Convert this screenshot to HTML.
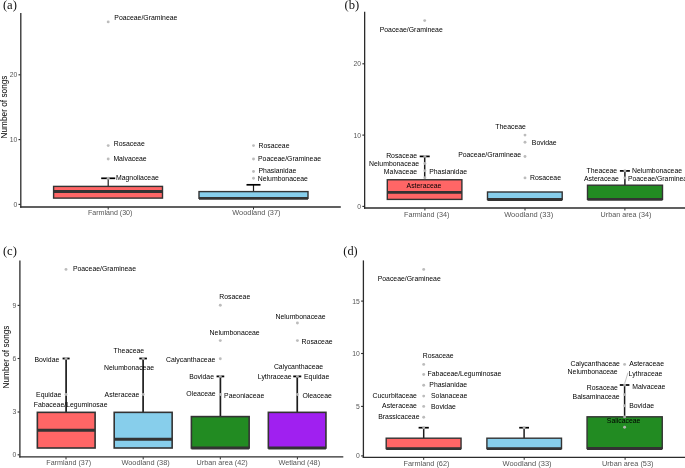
<!DOCTYPE html>
<html><head><meta charset="utf-8"><title>Boxplots</title>
<style>
html,body{margin:0;padding:0;background:#fff;}
body{width:685px;height:468px;overflow:hidden;font-family:"Liberation Sans",sans-serif;}
svg{display:block;will-change:transform;opacity:0.999;}
</style></head><body>
<svg width="685" height="468" viewBox="0 0 685 468">
<rect x="0" y="0" width="685" height="468" fill="#ffffff"/>
<text x="2.9" y="8.8" text-anchor="start" font-size="12.6" fill="#111" font-family="Liberation Serif, sans-serif" >(a)</text>
<line x1="20.8" y1="13.1" x2="20.8" y2="207.65" stroke="#2b2b2b" stroke-width="1.3" />
<line x1="20.150000000000002" y1="207.0" x2="340.8" y2="207.0" stroke="#2b2b2b" stroke-width="1.3" />
<line x1="18.500000000000004" y1="204.4" x2="20.5" y2="204.4" stroke="#2b2b2b" stroke-width="1.1" />
<text x="17.2" y="206.85" text-anchor="end" font-size="6.8" fill="#555555" font-family="Liberation Sans, sans-serif" >0</text>
<line x1="18.500000000000004" y1="139.6" x2="20.5" y2="139.6" stroke="#2b2b2b" stroke-width="1.1" />
<text x="17.2" y="142.04999999999998" text-anchor="end" font-size="6.8" fill="#555555" font-family="Liberation Sans, sans-serif" >10</text>
<line x1="18.500000000000004" y1="74.8" x2="20.5" y2="74.8" stroke="#2b2b2b" stroke-width="1.1" />
<text x="17.2" y="77.25" text-anchor="end" font-size="6.8" fill="#555555" font-family="Liberation Sans, sans-serif" >20</text>
<line x1="108.2" y1="207.3" x2="108.2" y2="209.5" stroke="#2b2b2b" stroke-width="1.0" />
<text x="88.0" y="215.2" text-anchor="start" font-size="7.3" fill="#555555" font-family="Liberation Sans, sans-serif" textLength="44.4" lengthAdjust="spacingAndGlyphs">Farmland (30)</text>
<line x1="253.5" y1="207.3" x2="253.5" y2="209.5" stroke="#2b2b2b" stroke-width="1.0" />
<text x="232.3" y="215.2" text-anchor="start" font-size="7.3" fill="#555555" font-family="Liberation Sans, sans-serif" textLength="48.2" lengthAdjust="spacingAndGlyphs">Woodland (37)</text>
<text x="0" y="0" text-anchor="middle" font-size="8.27" fill="#000" font-family="Liberation Sans, sans-serif" transform="translate(7.3,107.0) rotate(-90)">Number of songs</text>
<circle cx="108.2" cy="21.9" r="1.45" fill="#b8b8b8" fill-opacity="0.95"/>
<text x="114.3" y="19.6" text-anchor="start" font-size="6.88" fill="#000" font-family="Liberation Sans, sans-serif" >Poaceae/Gramineae</text>
<circle cx="108.2" cy="145.6" r="1.45" fill="#b8b8b8" fill-opacity="0.95"/>
<text x="113.8" y="145.8" text-anchor="start" font-size="6.88" fill="#000" font-family="Liberation Sans, sans-serif" >Rosaceae</text>
<circle cx="108.2" cy="159.0" r="1.45" fill="#b8b8b8" fill-opacity="0.95"/>
<text x="113.4" y="161.0" text-anchor="start" font-size="6.88" fill="#000" font-family="Liberation Sans, sans-serif" >Malvaceae</text>
<line x1="108.2" y1="186.4" x2="108.2" y2="178.3" stroke="#1c1c1c" stroke-width="1.2" />
<line x1="101.2" y1="178.3" x2="115.2" y2="178.3" stroke="#000" stroke-width="1.7" />
<rect x="53.6" y="186.4" width="108.9" height="11.699999999999989" fill="#FF6666" stroke="#333333" stroke-width="1.4"/>
<line x1="53.6" y1="191.5" x2="162.5" y2="191.5" stroke="#333333" stroke-width="2.8" />
<circle cx="108.2" cy="178.3" r="1.45" fill="#b8b8b8" fill-opacity="0.95"/>
<text x="116" y="179.5" text-anchor="start" font-size="6.88" fill="#000" font-family="Liberation Sans, sans-serif" >Magnoliaceae</text>
<circle cx="253.5" cy="145.6" r="1.45" fill="#b8b8b8" fill-opacity="0.95"/>
<text x="258.5" y="148.0" text-anchor="start" font-size="6.88" fill="#000" font-family="Liberation Sans, sans-serif" >Rosaceae</text>
<circle cx="253.5" cy="159.0" r="1.45" fill="#b8b8b8" fill-opacity="0.95"/>
<text x="258.0" y="161.0" text-anchor="start" font-size="6.88" fill="#000" font-family="Liberation Sans, sans-serif" >Poaceae/Gramineae</text>
<circle cx="253.5" cy="171.5" r="1.45" fill="#b8b8b8" fill-opacity="0.95"/>
<text x="258.5" y="173.0" text-anchor="start" font-size="6.88" fill="#000" font-family="Liberation Sans, sans-serif" >Phasianidae</text>
<circle cx="253.5" cy="178.3" r="1.45" fill="#b8b8b8" fill-opacity="0.95"/>
<text x="257.8" y="180.7" text-anchor="start" font-size="6.88" fill="#000" font-family="Liberation Sans, sans-serif" >Nelumbonaceae</text>
<line x1="253.5" y1="191.6" x2="253.5" y2="184.8" stroke="#1c1c1c" stroke-width="1.2" />
<line x1="246.5" y1="184.8" x2="260.5" y2="184.8" stroke="#000" stroke-width="1.7" />
<rect x="199.0" y="191.6" width="109.0" height="6.700000000000017" fill="#87CEEB" stroke="#333333" stroke-width="1.4"/>
<line x1="199.0" y1="198.3" x2="308.0" y2="198.3" stroke="#333333" stroke-width="2.8" />
<text x="344.6" y="8.6" text-anchor="start" font-size="12.6" fill="#111" font-family="Liberation Serif, sans-serif" >(b)</text>
<line x1="364.65" y1="11.8" x2="364.65" y2="208.65" stroke="#2b2b2b" stroke-width="1.3" />
<line x1="364.0" y1="208.0" x2="685" y2="208.0" stroke="#2b2b2b" stroke-width="1.3" />
<line x1="362.35" y1="206.4" x2="364.34999999999997" y2="206.4" stroke="#2b2b2b" stroke-width="1.1" />
<text x="361.04999999999995" y="208.85" text-anchor="end" font-size="6.8" fill="#555555" font-family="Liberation Sans, sans-serif" >0</text>
<line x1="362.35" y1="135.1" x2="364.34999999999997" y2="135.1" stroke="#2b2b2b" stroke-width="1.1" />
<text x="361.04999999999995" y="137.54999999999998" text-anchor="end" font-size="6.8" fill="#555555" font-family="Liberation Sans, sans-serif" >10</text>
<line x1="362.35" y1="63.8" x2="364.34999999999997" y2="63.8" stroke="#2b2b2b" stroke-width="1.1" />
<text x="361.04999999999995" y="66.25" text-anchor="end" font-size="6.8" fill="#555555" font-family="Liberation Sans, sans-serif" >20</text>
<line x1="424.9" y1="208.3" x2="424.9" y2="210.5" stroke="#2b2b2b" stroke-width="1.0" />
<text x="404.0" y="216.9" text-anchor="start" font-size="7.3" fill="#555555" font-family="Liberation Sans, sans-serif" textLength="45.4" lengthAdjust="spacingAndGlyphs">Farmland (34)</text>
<line x1="525" y1="208.3" x2="525" y2="210.5" stroke="#2b2b2b" stroke-width="1.0" />
<text x="504.2" y="216.9" text-anchor="start" font-size="7.3" fill="#555555" font-family="Liberation Sans, sans-serif" textLength="49.0" lengthAdjust="spacingAndGlyphs">Woodland (33)</text>
<line x1="624.9" y1="208.3" x2="624.9" y2="210.5" stroke="#2b2b2b" stroke-width="1.0" />
<text x="600.6" y="216.9" text-anchor="start" font-size="7.3" fill="#555555" font-family="Liberation Sans, sans-serif" textLength="50.7" lengthAdjust="spacingAndGlyphs">Urban area (34)</text>
<circle cx="424.7" cy="20.6" r="1.45" fill="#b8b8b8" fill-opacity="0.95"/>
<text x="379.7" y="31.9" text-anchor="start" font-size="6.88" fill="#000" font-family="Liberation Sans, sans-serif" >Poaceae/Gramineae</text>
<line x1="424.7" y1="179.75" x2="424.7" y2="156.4" stroke="#1c1c1c" stroke-width="1.5" />
<line x1="419.7" y1="156.4" x2="429.7" y2="156.4" stroke="#000" stroke-width="1.7" />
<rect x="387.3" y="179.75" width="74.59999999999997" height="19.650000000000006" fill="#FF6666" stroke="#333333" stroke-width="1.4"/>
<line x1="387.3" y1="192.3" x2="461.9" y2="192.3" stroke="#333333" stroke-width="2.8" />
<circle cx="424.9" cy="156.4" r="1.45" fill="#b8b8b8" fill-opacity="0.95"/>
<circle cx="424.9" cy="163.5" r="1.45" fill="#b8b8b8" fill-opacity="0.95"/>
<circle cx="424.9" cy="170.7" r="1.45" fill="#b8b8b8" fill-opacity="0.95"/>
<circle cx="424.9" cy="177.8" r="1.45" fill="#b8b8b8" fill-opacity="0.95"/>
<text x="417.1" y="158.0" text-anchor="end" font-size="6.88" fill="#000" font-family="Liberation Sans, sans-serif" >Rosaceae</text>
<text x="419.1" y="165.5" text-anchor="end" font-size="6.88" fill="#000" font-family="Liberation Sans, sans-serif" >Nelumbonaceae</text>
<text x="417.1" y="173.5" text-anchor="end" font-size="6.88" fill="#000" font-family="Liberation Sans, sans-serif" >Malvaceae</text>
<text x="429.2" y="173.5" text-anchor="start" font-size="6.88" fill="#000" font-family="Liberation Sans, sans-serif" >Phasianidae</text>
<text x="406.6" y="187.6" text-anchor="start" font-size="6.88" fill="#000" font-family="Liberation Sans, sans-serif" >Asteraceae</text>
<circle cx="525" cy="135.1" r="1.45" fill="#b8b8b8" fill-opacity="0.95"/>
<circle cx="525" cy="142.2" r="1.45" fill="#b8b8b8" fill-opacity="0.95"/>
<circle cx="525" cy="156.5" r="1.45" fill="#b8b8b8" fill-opacity="0.95"/>
<circle cx="525" cy="177.9" r="1.45" fill="#b8b8b8" fill-opacity="0.95"/>
<text x="525.9" y="128.9" text-anchor="end" font-size="6.88" fill="#000" font-family="Liberation Sans, sans-serif" >Theaceae</text>
<text x="531.8" y="144.8" text-anchor="start" font-size="6.88" fill="#000" font-family="Liberation Sans, sans-serif" >Bovidae</text>
<text x="521.2" y="157.4" text-anchor="end" font-size="6.88" fill="#000" font-family="Liberation Sans, sans-serif" >Poaceae/Gramineae</text>
<text x="530" y="180.0" text-anchor="start" font-size="6.88" fill="#000" font-family="Liberation Sans, sans-serif" >Rosaceae</text>
<line x1="525" y1="192.0" x2="525" y2="192.0" stroke="#1c1c1c" stroke-width="1.5" />
<line x1="525.0" y1="192.0" x2="525.0" y2="192.0" stroke="#000" stroke-width="1.7" />
<rect x="487.5" y="192.0" width="74.70000000000005" height="7.5" fill="#87CEEB" stroke="#333333" stroke-width="1.4"/>
<line x1="487.5" y1="199.5" x2="562.2" y2="199.5" stroke="#333333" stroke-width="2.8" />
<line x1="624.9" y1="185.2" x2="624.9" y2="170.9" stroke="#1c1c1c" stroke-width="1.5" />
<line x1="619.9" y1="170.9" x2="629.9" y2="170.9" stroke="#000" stroke-width="1.7" />
<rect x="587.5" y="185.2" width="75.0" height="14.100000000000023" fill="#228B22" stroke="#333333" stroke-width="1.4"/>
<line x1="587.5" y1="199.3" x2="662.5" y2="199.3" stroke="#333333" stroke-width="2.8" />
<circle cx="624.9" cy="170.7" r="1.45" fill="#b8b8b8" fill-opacity="0.95"/>
<circle cx="624.9" cy="177.9" r="1.45" fill="#b8b8b8" fill-opacity="0.95"/>
<text x="617.2" y="173.1" text-anchor="end" font-size="6.88" fill="#000" font-family="Liberation Sans, sans-serif" >Theaceae</text>
<text x="618.8" y="180.7" text-anchor="end" font-size="6.88" fill="#000" font-family="Liberation Sans, sans-serif" >Asteraceae</text>
<text x="632" y="173.1" text-anchor="start" font-size="6.88" fill="#000" font-family="Liberation Sans, sans-serif" >Nelumbonaceae</text>
<text x="627.9" y="180.7" text-anchor="start" font-size="6.88" fill="#000" font-family="Liberation Sans, sans-serif" >Poaceae/Gramineae</text>
<text x="2.9" y="255.4" text-anchor="start" font-size="12.6" fill="#111" font-family="Liberation Serif, sans-serif" >(c)</text>
<line x1="19.9" y1="260.4" x2="19.9" y2="457.54999999999995" stroke="#2b2b2b" stroke-width="1.3" />
<line x1="19.25" y1="456.9" x2="343.3" y2="456.9" stroke="#2b2b2b" stroke-width="1.3" />
<line x1="17.6" y1="454.8" x2="19.599999999999998" y2="454.8" stroke="#2b2b2b" stroke-width="1.1" />
<text x="16.299999999999997" y="457.25" text-anchor="end" font-size="6.8" fill="#555555" font-family="Liberation Sans, sans-serif" >0</text>
<line x1="17.6" y1="412.0" x2="19.599999999999998" y2="412.0" stroke="#2b2b2b" stroke-width="1.1" />
<text x="16.299999999999997" y="414.45" text-anchor="end" font-size="6.8" fill="#555555" font-family="Liberation Sans, sans-serif" >3</text>
<line x1="17.6" y1="358.5" x2="19.599999999999998" y2="358.5" stroke="#2b2b2b" stroke-width="1.1" />
<text x="16.299999999999997" y="360.95" text-anchor="end" font-size="6.8" fill="#555555" font-family="Liberation Sans, sans-serif" >6</text>
<line x1="17.6" y1="305.4" x2="19.599999999999998" y2="305.4" stroke="#2b2b2b" stroke-width="1.1" />
<text x="16.299999999999997" y="307.84999999999997" text-anchor="end" font-size="6.8" fill="#555555" font-family="Liberation Sans, sans-serif" >9</text>
<line x1="66" y1="457.2" x2="66" y2="459.4" stroke="#2b2b2b" stroke-width="1.0" />
<text x="46.3" y="464.8" text-anchor="start" font-size="7.3" fill="#555555" font-family="Liberation Sans, sans-serif" textLength="44.8" lengthAdjust="spacingAndGlyphs">Farmland (37)</text>
<line x1="143.2" y1="457.2" x2="143.2" y2="459.4" stroke="#2b2b2b" stroke-width="1.0" />
<text x="121.4" y="464.8" text-anchor="start" font-size="7.3" fill="#555555" font-family="Liberation Sans, sans-serif" textLength="48.4" lengthAdjust="spacingAndGlyphs">Woodland (38)</text>
<line x1="220.3" y1="457.2" x2="220.3" y2="459.4" stroke="#2b2b2b" stroke-width="1.0" />
<text x="196.5" y="464.8" text-anchor="start" font-size="7.3" fill="#555555" font-family="Liberation Sans, sans-serif" textLength="51.2" lengthAdjust="spacingAndGlyphs">Urban area (42)</text>
<line x1="297.4" y1="457.2" x2="297.4" y2="459.4" stroke="#2b2b2b" stroke-width="1.0" />
<text x="278.4" y="464.8" text-anchor="start" font-size="7.3" fill="#555555" font-family="Liberation Sans, sans-serif" textLength="41.7" lengthAdjust="spacingAndGlyphs">Wetland (48)</text>
<text x="0" y="0" text-anchor="middle" font-size="8.27" fill="#000" font-family="Liberation Sans, sans-serif" transform="translate(8.6,357) rotate(-90)">Number of songs</text>
<circle cx="66" cy="269.4" r="1.45" fill="#b8b8b8" fill-opacity="0.95"/>
<text x="72.9" y="271" text-anchor="start" font-size="6.88" fill="#000" font-family="Liberation Sans, sans-serif" >Poaceae/Gramineae</text>
<line x1="66.1" y1="412.35" x2="66.1" y2="358.5" stroke="#1c1c1c" stroke-width="1.7" />
<line x1="62.599999999999994" y1="358.5" x2="69.6" y2="358.5" stroke="#000" stroke-width="1.8" />
<rect x="37.35" y="412.35" width="57.74999999999999" height="35.64999999999998" fill="#FF6666" stroke="#333333" stroke-width="1.6"/>
<line x1="37.35" y1="430.3" x2="95.1" y2="430.3" stroke="#333333" stroke-width="3.0" />
<circle cx="66" cy="358.5" r="1.45" fill="#b8b8b8" fill-opacity="0.95"/>
<circle cx="66" cy="394.5" r="1.45" fill="#b8b8b8" fill-opacity="0.95"/>
<text x="59.3" y="361.8" text-anchor="end" font-size="6.88" fill="#000" font-family="Liberation Sans, sans-serif" >Bovidae</text>
<text x="61.3" y="397.1" text-anchor="end" font-size="6.88" fill="#000" font-family="Liberation Sans, sans-serif" >Equidae</text>
<text x="33.7" y="406.8" text-anchor="start" font-size="6.88" fill="#000" font-family="Liberation Sans, sans-serif" >Fabaceae/Leguminosae</text>
<line x1="143.1" y1="412.35" x2="143.1" y2="358.5" stroke="#1c1c1c" stroke-width="1.7" />
<line x1="139.29999999999998" y1="358.5" x2="146.9" y2="358.5" stroke="#000" stroke-width="1.8" />
<rect x="114.2" y="412.35" width="57.95" height="35.64999999999998" fill="#87CEEB" stroke="#333333" stroke-width="1.6"/>
<line x1="114.2" y1="439.2" x2="172.15" y2="439.2" stroke="#333333" stroke-width="3.0" />
<circle cx="143.2" cy="358.5" r="1.45" fill="#b8b8b8" fill-opacity="0.95"/>
<circle cx="143.2" cy="394.5" r="1.45" fill="#b8b8b8" fill-opacity="0.95"/>
<text x="144.2" y="352.8" text-anchor="end" font-size="6.88" fill="#000" font-family="Liberation Sans, sans-serif" >Theaceae</text>
<text x="104" y="369.5" text-anchor="start" font-size="6.88" fill="#000" font-family="Liberation Sans, sans-serif" >Nelumbonaceae</text>
<text x="139.4" y="396.6" text-anchor="end" font-size="6.88" fill="#000" font-family="Liberation Sans, sans-serif" >Asteraceae</text>
<line x1="220.4" y1="416.6" x2="220.4" y2="376.4" stroke="#1c1c1c" stroke-width="1.7" />
<line x1="216.55" y1="376.4" x2="224.25" y2="376.4" stroke="#000" stroke-width="1.8" />
<rect x="191.4" y="416.6" width="57.75" height="31.399999999999977" fill="#228B22" stroke="#333333" stroke-width="1.6"/>
<line x1="191.4" y1="448.0" x2="249.15" y2="448.0" stroke="#333333" stroke-width="3.0" />
<circle cx="220.3" cy="305.3" r="1.45" fill="#b8b8b8" fill-opacity="0.95"/>
<circle cx="220.3" cy="340.6" r="1.45" fill="#b8b8b8" fill-opacity="0.95"/>
<circle cx="220.3" cy="358.7" r="1.45" fill="#b8b8b8" fill-opacity="0.95"/>
<circle cx="220.3" cy="376.4" r="1.45" fill="#b8b8b8" fill-opacity="0.95"/>
<circle cx="220.3" cy="394.5" r="1.45" fill="#b8b8b8" fill-opacity="0.95"/>
<text x="219.3" y="298.9" text-anchor="start" font-size="6.88" fill="#000" font-family="Liberation Sans, sans-serif" >Rosaceae</text>
<text x="209.6" y="334.6" text-anchor="start" font-size="6.88" fill="#000" font-family="Liberation Sans, sans-serif" >Nelumbonaceae</text>
<text x="215.3" y="361.8" text-anchor="end" font-size="6.88" fill="#000" font-family="Liberation Sans, sans-serif" >Calycanthaceae</text>
<text x="214" y="378.9" text-anchor="end" font-size="6.88" fill="#000" font-family="Liberation Sans, sans-serif" >Bovidae</text>
<text x="215.7" y="396.1" text-anchor="end" font-size="6.88" fill="#000" font-family="Liberation Sans, sans-serif" >Oleaceae</text>
<text x="224.1" y="397.8" text-anchor="start" font-size="6.88" fill="#000" font-family="Liberation Sans, sans-serif" >Paeoniaceae</text>
<line x1="297.25" y1="412.35" x2="297.25" y2="376.4" stroke="#1c1c1c" stroke-width="1.7" />
<line x1="293.25" y1="376.4" x2="301.25" y2="376.4" stroke="#000" stroke-width="1.8" />
<rect x="268.35" y="412.35" width="57.599999999999966" height="35.64999999999998" fill="#A020F0" stroke="#333333" stroke-width="1.6"/>
<line x1="268.35" y1="448.0" x2="325.95" y2="448.0" stroke="#333333" stroke-width="3.0" />
<circle cx="297.4" cy="323" r="1.45" fill="#b8b8b8" fill-opacity="0.95"/>
<circle cx="297.4" cy="340.6" r="1.45" fill="#b8b8b8" fill-opacity="0.95"/>
<circle cx="297.4" cy="376.4" r="1.45" fill="#b8b8b8" fill-opacity="0.95"/>
<circle cx="297.4" cy="394.5" r="1.45" fill="#b8b8b8" fill-opacity="0.95"/>
<text x="275.5" y="318.6" text-anchor="start" font-size="6.88" fill="#000" font-family="Liberation Sans, sans-serif" >Nelumbonaceae</text>
<text x="301.6" y="343.9" text-anchor="start" font-size="6.88" fill="#000" font-family="Liberation Sans, sans-serif" >Rosaceae</text>
<text x="273.9" y="369.3" text-anchor="start" font-size="6.88" fill="#000" font-family="Liberation Sans, sans-serif" >Calycanthaceae</text>
<text x="291.6" y="378.9" text-anchor="end" font-size="6.88" fill="#000" font-family="Liberation Sans, sans-serif" >Lythraceae</text>
<text x="304" y="378.9" text-anchor="start" font-size="6.88" fill="#000" font-family="Liberation Sans, sans-serif" >Equidae</text>
<text x="302.4" y="397.8" text-anchor="start" font-size="6.88" fill="#000" font-family="Liberation Sans, sans-serif" >Oleaceae</text>
<text x="343.3" y="255.4" text-anchor="start" font-size="12.3" fill="#111" font-family="Liberation Serif, sans-serif" >(d)</text>
<line x1="363.4" y1="260.4" x2="363.4" y2="457.95" stroke="#2b2b2b" stroke-width="1.3" />
<line x1="362.75" y1="457.3" x2="685" y2="457.3" stroke="#2b2b2b" stroke-width="1.3" />
<line x1="361.1" y1="455.9" x2="363.09999999999997" y2="455.9" stroke="#2b2b2b" stroke-width="1.1" />
<text x="359.79999999999995" y="458.34999999999997" text-anchor="end" font-size="6.8" fill="#555555" font-family="Liberation Sans, sans-serif" >0</text>
<line x1="361.1" y1="406.4" x2="363.09999999999997" y2="406.4" stroke="#2b2b2b" stroke-width="1.1" />
<text x="359.79999999999995" y="408.84999999999997" text-anchor="end" font-size="6.8" fill="#555555" font-family="Liberation Sans, sans-serif" >5</text>
<line x1="361.1" y1="353.5" x2="363.09999999999997" y2="353.5" stroke="#2b2b2b" stroke-width="1.1" />
<text x="359.79999999999995" y="355.95" text-anchor="end" font-size="6.8" fill="#555555" font-family="Liberation Sans, sans-serif" >10</text>
<line x1="361.1" y1="301.1" x2="363.09999999999997" y2="301.1" stroke="#2b2b2b" stroke-width="1.1" />
<text x="359.79999999999995" y="303.55" text-anchor="end" font-size="6.8" fill="#555555" font-family="Liberation Sans, sans-serif" >15</text>
<line x1="423.7" y1="457.6" x2="423.7" y2="459.8" stroke="#2b2b2b" stroke-width="1.0" />
<text x="403.6" y="466.3" text-anchor="start" font-size="7.3" fill="#555555" font-family="Liberation Sans, sans-serif" textLength="45.8" lengthAdjust="spacingAndGlyphs">Farmland (62)</text>
<line x1="524.2" y1="457.6" x2="524.2" y2="459.8" stroke="#2b2b2b" stroke-width="1.0" />
<text x="502.5" y="466.3" text-anchor="start" font-size="7.3" fill="#555555" font-family="Liberation Sans, sans-serif" textLength="49.1" lengthAdjust="spacingAndGlyphs">Woodland (33)</text>
<line x1="625.1" y1="457.6" x2="625.1" y2="459.8" stroke="#2b2b2b" stroke-width="1.0" />
<text x="601.9" y="466.3" text-anchor="start" font-size="7.3" fill="#555555" font-family="Liberation Sans, sans-serif" textLength="51.5" lengthAdjust="spacingAndGlyphs">Urban area (53)</text>
<circle cx="423.7" cy="269.4" r="1.45" fill="#b8b8b8" fill-opacity="0.95"/>
<text x="377.7" y="280.7" text-anchor="start" font-size="6.88" fill="#000" font-family="Liberation Sans, sans-serif" >Poaceae/Gramineae</text>
<line x1="423.7" y1="438.2" x2="423.7" y2="427.7" stroke="#1c1c1c" stroke-width="1.5" />
<line x1="418.59999999999997" y1="427.7" x2="428.8" y2="427.7" stroke="#000" stroke-width="1.7" />
<rect x="386.2" y="438.2" width="74.85000000000002" height="10.400000000000034" fill="#FF6666" stroke="#333333" stroke-width="1.4"/>
<line x1="386.2" y1="448.6" x2="461.05" y2="448.6" stroke="#333333" stroke-width="2.8" />
<circle cx="423.7" cy="364.4" r="1.45" fill="#b8b8b8" fill-opacity="0.95"/>
<circle cx="423.7" cy="374.5" r="1.45" fill="#b8b8b8" fill-opacity="0.95"/>
<circle cx="423.7" cy="385.2" r="1.45" fill="#b8b8b8" fill-opacity="0.95"/>
<circle cx="423.7" cy="396.1" r="1.45" fill="#b8b8b8" fill-opacity="0.95"/>
<circle cx="423.7" cy="406.4" r="1.45" fill="#b8b8b8" fill-opacity="0.95"/>
<circle cx="423.7" cy="417.2" r="1.45" fill="#b8b8b8" fill-opacity="0.95"/>
<circle cx="423.7" cy="427.7" r="1.45" fill="#b8b8b8" fill-opacity="0.95"/>
<text x="422.7" y="357.5" text-anchor="start" font-size="6.88" fill="#000" font-family="Liberation Sans, sans-serif" >Rosaceae</text>
<text x="427.6" y="376" text-anchor="start" font-size="6.88" fill="#000" font-family="Liberation Sans, sans-serif" >Fabaceae/Leguminosae</text>
<text x="429.3" y="386.9" text-anchor="start" font-size="6.88" fill="#000" font-family="Liberation Sans, sans-serif" >Phasianidae</text>
<text x="416.9" y="397.8" text-anchor="end" font-size="6.88" fill="#000" font-family="Liberation Sans, sans-serif" >Cucurbitaceae</text>
<text x="431" y="397.8" text-anchor="start" font-size="6.88" fill="#000" font-family="Liberation Sans, sans-serif" >Solanaceae</text>
<text x="416.9" y="408.2" text-anchor="end" font-size="6.88" fill="#000" font-family="Liberation Sans, sans-serif" >Asteraceae</text>
<text x="431" y="409" text-anchor="start" font-size="6.88" fill="#000" font-family="Liberation Sans, sans-serif" >Bovidae</text>
<text x="419.5" y="418.5" text-anchor="end" font-size="6.88" fill="#000" font-family="Liberation Sans, sans-serif" >Brassicaceae</text>
<line x1="524.1" y1="438.2" x2="524.1" y2="427.7" stroke="#1c1c1c" stroke-width="1.5" />
<line x1="519.2" y1="427.7" x2="529.0" y2="427.7" stroke="#000" stroke-width="1.7" />
<rect x="486.9" y="438.2" width="74.60000000000002" height="10.400000000000034" fill="#87CEEB" stroke="#333333" stroke-width="1.4"/>
<line x1="486.9" y1="448.6" x2="561.5" y2="448.6" stroke="#333333" stroke-width="2.8" />
<circle cx="524.1" cy="427.7" r="1.45" fill="#b8b8b8" fill-opacity="0.95"/>
<line x1="624.6" y1="416.8" x2="624.6" y2="385.0" stroke="#1c1c1c" stroke-width="1.5" />
<line x1="619.8000000000001" y1="385.0" x2="629.4" y2="385.0" stroke="#000" stroke-width="1.7" />
<rect x="587.05" y="416.8" width="75.20000000000005" height="31.69999999999999" fill="#228B22" stroke="#333333" stroke-width="1.4"/>
<line x1="587.05" y1="448.5" x2="662.25" y2="448.5" stroke="#333333" stroke-width="2.8" />
<circle cx="624.6" cy="364.4" r="1.45" fill="#b8b8b8" fill-opacity="0.95"/>
<circle cx="624.6" cy="385.0" r="1.45" fill="#b8b8b8" fill-opacity="0.95"/>
<circle cx="624.6" cy="394.6" r="1.45" fill="#b8b8b8" fill-opacity="0.95"/>
<circle cx="624.6" cy="405.8" r="1.45" fill="#b8b8b8" fill-opacity="0.95"/>
<circle cx="624.6" cy="416.9" r="1.45" fill="#b8b8b8" fill-opacity="0.95"/>
<circle cx="624.6" cy="427.3" r="1.45" fill="#b8b8b8" fill-opacity="0.95"/>
<line x1="624.8" y1="383.0" x2="628.0" y2="372.6" stroke="#777" stroke-width="0.45" />
<text x="619.9" y="365.7" text-anchor="end" font-size="6.88" fill="#000" font-family="Liberation Sans, sans-serif" >Calycanthaceae</text>
<text x="629.2" y="365.7" text-anchor="start" font-size="6.88" fill="#000" font-family="Liberation Sans, sans-serif" >Asteraceae</text>
<text x="617.7" y="374.0" text-anchor="end" font-size="6.88" fill="#000" font-family="Liberation Sans, sans-serif" >Nelumbonaceae</text>
<text x="628.6" y="375.9" text-anchor="start" font-size="6.88" fill="#000" font-family="Liberation Sans, sans-serif" >Lythraceae</text>
<text x="632.2" y="388.6" text-anchor="start" font-size="6.88" fill="#000" font-family="Liberation Sans, sans-serif" >Malvaceae</text>
<text x="617.8" y="390.4" text-anchor="end" font-size="6.88" fill="#000" font-family="Liberation Sans, sans-serif" >Rosaceae</text>
<text x="619.6" y="398.5" text-anchor="end" font-size="6.88" fill="#000" font-family="Liberation Sans, sans-serif" >Balsaminaceae</text>
<text x="629.2" y="408.0" text-anchor="start" font-size="6.88" fill="#000" font-family="Liberation Sans, sans-serif" >Bovidae</text>
<text x="606.8" y="423.1" text-anchor="start" font-size="6.88" fill="#000" font-family="Liberation Sans, sans-serif" >Salicaceae</text>
</svg>
</body></html>
